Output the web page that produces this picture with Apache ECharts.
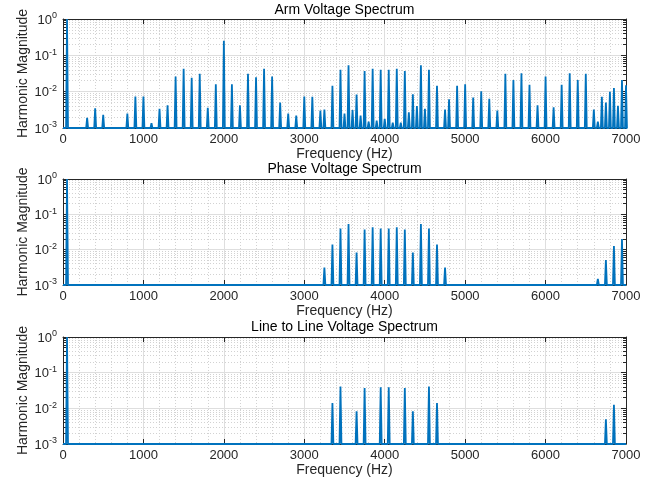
<!DOCTYPE html>
<html>
<head>
<meta charset="utf-8">
<title>Voltage Spectra</title>
<script src="https://cdn.jsdelivr.net/npm/echarts@6/dist/echarts.min.js"></script>
<style>
  html, body { margin: 0; padding: 0; background: #fff; }
  #chart { width: 652px; height: 482px; }
</style>
</head>
<body>
<div id="chart"></div>
<script>
// Harmonic frequencies (Hz) and magnitudes (per unit of fundamental)
const armFreqs = [50, 300, 400, 500, 800, 900, 1000, 1100, 1200, 1300, 1400, 1500, 1600, 1700,
  1800, 1900, 2000, 2100, 2200, 2300, 2400, 2500, 2600, 2700, 2800, 2900, 3000, 3100, 3200,
  3250, 3350, 3450, 3500, 3550, 3600, 3650, 3700, 3750, 3800, 3850, 3900, 3950, 4000, 4050,
  4100, 4150, 4200, 4250, 4300, 4350, 4400, 4450, 4500, 4550, 4650, 4750, 4800, 4900, 5000,
  5100, 5200, 5300, 5400, 5500, 5600, 5700, 5800, 5900, 6000, 6100, 6200, 6300, 6400, 6500,
  6600, 6650, 6700, 6750, 6800, 6850, 6900, 6950, 7000];
const armMags = [1.0, 0.0019, 0.0035, 0.0023, 0.0025, 0.0073, 0.0073, 0.00135, 0.0034, 0.0042,
  0.026, 0.043, 0.024, 0.031, 0.0036, 0.016, 0.25, 0.016, 0.0042, 0.031, 0.025, 0.043, 0.026,
  0.005, 0.0025, 0.0022, 0.0073, 0.0072, 0.003, 0.0032, 0.0145, 0.04, 0.0025, 0.053, 0.0031,
  0.0083, 0.0022, 0.037, 0.0015, 0.043, 0.0016, 0.04, 0.0018, 0.04, 0.0014, 0.043, 0.0014,
  0.037, 0.0027, 0.0085, 0.004, 0.053, 0.0034, 0.04, 0.0145, 0.0032, 0.0062, 0.0145, 0.016,
  0.0069, 0.0103, 0.0064, 0.003, 0.031, 0.021, 0.032, 0.0155, 0.0042, 0.026, 0.0037, 0.0155,
  0.032, 0.021, 0.031, 0.0032, 0.0015, 0.0072, 0.005, 0.01, 0.0125, 0.0041, 0.021, 0.015];

const phaseFreqs = [50, 3250, 3350, 3450, 3550, 3650, 3750, 3850, 3950, 4050, 4150, 4250, 4350,
  4450, 4550, 4650, 4750, 6650, 6750, 6850, 6950];
const phaseMags = [1.0, 0.0031, 0.014, 0.04, 0.053, 0.0083, 0.037, 0.043, 0.04, 0.04, 0.043,
  0.037, 0.0083, 0.053, 0.04, 0.014, 0.0031, 0.0015, 0.0051, 0.0126, 0.02];

const lineFreqs = [50, 3350, 3450, 3650, 3750, 3950, 4050, 4250, 4350, 4550, 4650, 6750, 6850];
const lineMags = [1.0, 0.014, 0.041, 0.0083, 0.037, 0.039, 0.039, 0.037, 0.0083, 0.041, 0.014,
  0.0049, 0.0125];

const panelTitles = ['Arm Voltage Spectrum', 'Phase Voltage Spectrum', 'Line to Line Voltage Spectrum'];
const yTitle = 'Harmonic Magnitude';

// Spectrum floor and half-width of each spectral line (one FFT bin)
const FLOOR = 1e-3;
const BIN = 12;

function spectrum(freqs, mags) {
  const pts = [[0, FLOOR]];
  freqs.forEach((f, i) => {
    pts.push([f - BIN, FLOOR], [f, mags[i]], [f + BIN, FLOOR]);
  });
  pts.push([7000, FLOOR]);
  return pts;
}

const FONT = "'Liberation Sans', Arial, Helvetica, sans-serif";
const TXT = '#262626';
const AXIS = '#262626';
const MAJOR = '#dedede';
const MINOR = '#d2d2d2';
const BLUE = '#0072BD';

const grids = [
  { left: 63, right: 26, top: 19, height: 109 },
  { left: 63, right: 26, top: 179, height: 106 },
  { left: 63, right: 26, top: 337, height: 107 }
];

const xAxes = [], yAxes = [], series = [], graphics = [];

grids.forEach((g, i) => {
  // bottom x axis with labels
  xAxes.push({
    type: 'value', gridIndex: i, min: 0, max: 7000, interval: 1000, position: 'bottom',
    name: 'Frequency (Hz)', nameLocation: 'middle', nameGap: 19,
    nameTextStyle: { fontFamily: FONT, fontSize: 14, color: TXT },
    axisLine: { show: true, onZero: false, lineStyle: { color: AXIS, width: 1 } },
    axisTick: { show: true, inside: true, length: 5, lineStyle: { color: AXIS } },
    minorTick: { show: false, splitNumber: 5 },
    axisLabel: { fontFamily: FONT, fontSize: 13, color: TXT, margin: 5, formatter: v => String(v) },
    splitLine: { show: true, lineStyle: { color: MAJOR, width: 1 } },
    minorSplitLine: { show: true, lineStyle: { color: MINOR, width: 1, type: [1, 2] } }
  });
  // top x axis (box edge)
  xAxes.push({
    type: 'value', gridIndex: i, min: 0, max: 7000, interval: 1000, position: 'top',
    axisLine: { show: true, onZero: false, lineStyle: { color: AXIS, width: 1 } },
    axisTick: { show: true, inside: true, length: 5, lineStyle: { color: AXIS } },
    axisLabel: { show: false },
    splitLine: { show: false }
  });
  // left log y axis with labels
  yAxes.push({
    type: 'log', logBase: 10, gridIndex: i, min: 0.001, max: 1, position: 'left',
    axisLine: { show: true, onZero: false, lineStyle: { color: AXIS, width: 1 } },
    axisTick: { show: true, inside: true, length: 5, lineStyle: { color: AXIS } },
    minorTick: { show: true, splitNumber: 9, length: 3, lineStyle: { color: AXIS } },
    axisLabel: {
      margin: 6,
      formatter: v => '{b|10}{s|' + Math.round(Math.log10(v)) + '}',
      rich: {
        b: { fontFamily: FONT, fontSize: 13, color: TXT, verticalAlign: 'bottom' },
        s: { fontFamily: FONT, fontSize: 9, color: TXT, verticalAlign: 'bottom', padding: [0, 0, 6, 0] }
      }
    },
    splitLine: { show: true, lineStyle: { color: MAJOR, width: 1 } },
    minorSplitLine: { show: true, lineStyle: { color: MINOR, width: 1, type: [1, 2] } }
  });
  // right log y axis (box edge)
  yAxes.push({
    type: 'log', logBase: 10, gridIndex: i, min: 0.001, max: 1, position: 'right',
    axisLine: { show: true, onZero: false, lineStyle: { color: AXIS, width: 1 } },
    axisTick: { show: true, inside: true, length: 5, lineStyle: { color: AXIS } },
    minorTick: { show: true, splitNumber: 9, length: 3, lineStyle: { color: AXIS } },
    axisLabel: { show: false },
    splitLine: { show: false }
  });
  // rotated y-axis title, centred on the plot area
  graphics.push({
    type: 'text', x: 23, y: g.top + g.height / 2, rotation: Math.PI / 2,
    style: { text: yTitle, fontFamily: FONT, fontSize: 14, fill: TXT, align: 'center', verticalAlign: 'middle' }
  });
});

const dataSets = [spectrum(armFreqs, armMags), spectrum(phaseFreqs, phaseMags), spectrum(lineFreqs, lineMags)];
dataSets.forEach((d, i) => {
  series.push({
    type: 'line', xAxisIndex: i * 2, yAxisIndex: i * 2, data: d,
    showSymbol: false, symbol: 'none', clip: true, animation: false,
    lineStyle: { color: BLUE, width: 1.8 }
  });
});

const titleY = [10, 169.5, 327];
panelTitles.forEach((t, i) => {
  graphics.push({
    type: 'text', x: 344.5, y: titleY[i],
    style: { text: t, fontFamily: FONT, fontSize: 14, fill: '#000', align: 'center', verticalAlign: 'middle' }
  });
});

const chart = echarts.init(document.getElementById('chart'), null, { renderer: 'canvas' });
chart.setOption({
  animation: false,
  backgroundColor: '#fff',
  grid: grids.map(g => Object.assign({ containLabel: false }, g)),
  xAxis: xAxes,
  yAxis: yAxes,
  series: series,
  graphic: graphics
});
</script>
</body>
</html>
